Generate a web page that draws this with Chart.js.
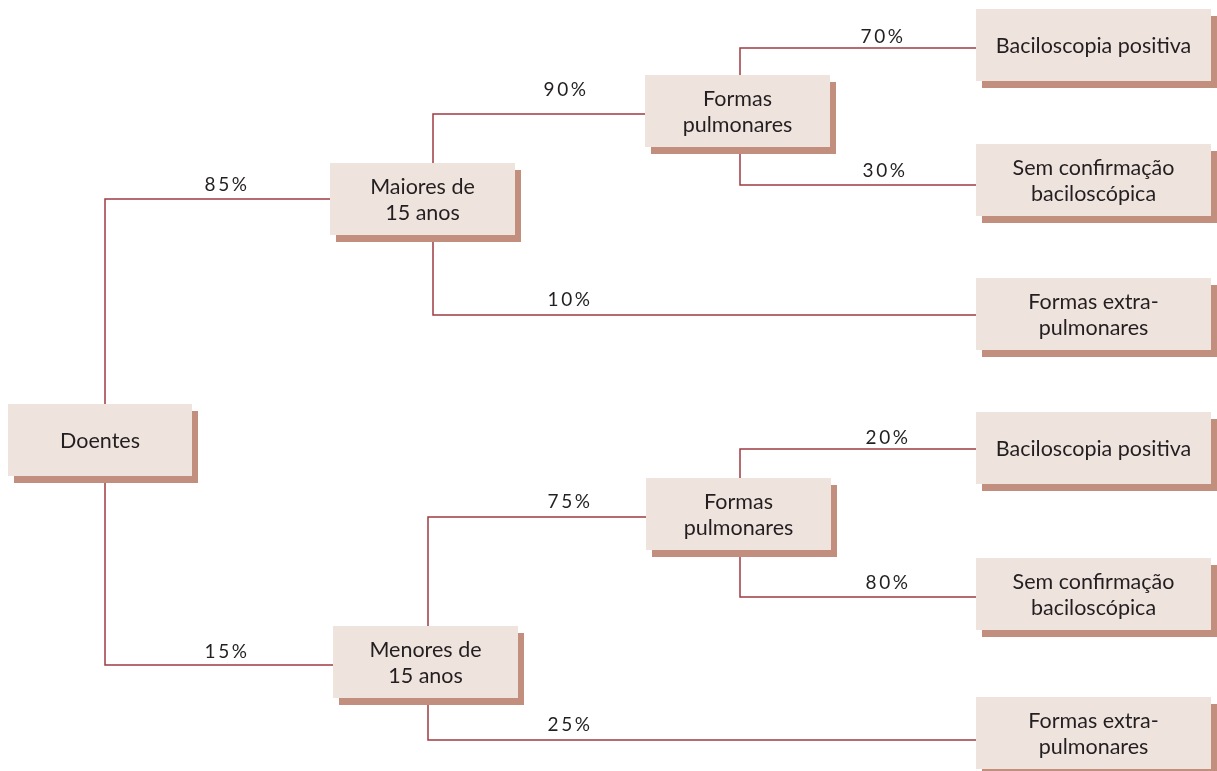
<!DOCTYPE html>
<html>
<head>
<meta charset="utf-8">
<script src="https://cdn.jsdelivr.net/npm/chart.js@4.4.1/dist/chart.umd.min.js"></script>
<style>
  html, body { margin: 0; padding: 0; background: #fff; }
  #wrap { width: 1217px; height: 771px; }
</style>
</head>
<body>
<div id="wrap"><canvas id="tree" width="1217" height="771"></canvas></div>
<script>
// Nós da árvore e percentagens de cada ramo
const nodeLabels = [
  'Doentes',
  'Maiores de\n15 anos',
  'Menores de\n15 anos',
  'Formas\npulmonares',
  'Formas extra-\npulmonares',
  'Baciloscopia positiva',
  'Sem confirmação\nbaciloscópica',
  'Formas\npulmonares',
  'Formas extra-\npulmonares',
  'Baciloscopia positiva',
  'Sem confirmação\nbaciloscópica'
];
const nodeParent = [-1, 0, 0, 1, 1, 3, 3, 2, 2, 7, 7];
const edgePercent = [null, 85, 15, 90, 10, 70, 30, 75, 25, 20, 80];

// Posições do desenho (em unidades da escala 0..1217 x 0..771)
const layout = {
  boxLeft:  [8, 330, 333, 645, 976, 976, 976, 646, 976, 976, 976],
  boxTop:   [404, 163, 626, 75, 278, 9, 144, 478, 697, 412, 558],
  boxWidth: [184, 185, 185, 185, 235, 235, 235, 185, 235, 235, 235],
  boxHeight: 72,
  linkY:    [440, 199, 665, 114, 315, 48, 185, 517, 740, 449, 597],
  trunkX:   [105, 433, 428, 740, null, null, null, 740, null, null, null],
  labelX:   [null, 227, 227, 566, 570, 883, 885, 570, 570, 888, 888],
  labelY:   [null, 185, 652, 90, 300, 37, 171, 502, 725, 438, 583]
};

const colors = {
  box: '#efe3de',
  shadow: '#c28e7e',
  line: '#9e3b41',
  text: '#231f20'
};

// Um dataset por ramo: tronco vertical do pai + linha até a caixa do filho
const datasets = [];
nodeParent.forEach((p, i) => {
  if (p < 0) return;
  const tx = layout.trunkX[p];
  const y = layout.linkY[i];
  datasets.push({
    data: [
      { x: tx, y: layout.linkY[p] },
      { x: tx, y: y },
      { x: layout.boxLeft[i], y: y }
    ],
    showLine: true,
    borderColor: colors.line,
    borderWidth: 1.5,
    pointRadius: 0,
    fill: false
  });
});

const boxesPlugin = {
  id: 'boxes',
  afterDatasetsDraw(chart) {
    const ctx = chart.ctx;
    const xs = chart.scales.x, ys = chart.scales.y;
    ctx.save();

    // caixas com sombra
    nodeLabels.forEach((label, i) => {
      const x0 = xs.getPixelForValue(layout.boxLeft[i]);
      const x1 = xs.getPixelForValue(layout.boxLeft[i] + layout.boxWidth[i]);
      const y0 = ys.getPixelForValue(layout.boxTop[i]);
      const y1 = ys.getPixelForValue(layout.boxTop[i] + layout.boxHeight);
      ctx.fillStyle = colors.shadow;
      ctx.fillRect(x0 + 6, y0 + 7, x1 - x0, y1 - y0);
      ctx.fillStyle = colors.box;
      ctx.fillRect(x0, y0, x1 - x0, y1 - y0);

      ctx.fillStyle = colors.text;
      ctx.font = '21.5px Lato, "Open Sans", sans-serif';
      ctx.textAlign = 'center';
      ctx.textBaseline = 'middle';
      const lines = label.split('\n');
      const cx = (x0 + x1) / 2, cy = (y0 + y1) / 2 + 1;
      const lh = 26;
      lines.forEach((t, k) => {
        ctx.fillText(t, cx, cy + (k - (lines.length - 1) / 2) * lh);
      });
    });

    // percentagens
    ctx.font = '19px Lato, "Open Sans", sans-serif';
    ctx.letterSpacing = '2.5px';
    ctx.fillStyle = colors.text;
    edgePercent.forEach((v, i) => {
      if (v == null) return;
      ctx.fillText(v + '%', xs.getPixelForValue(layout.labelX[i]), ys.getPixelForValue(layout.labelY[i]));
    });
    ctx.restore();
  }
};

new Chart(document.getElementById('tree'), {
  type: 'scatter',
  data: { datasets },
  options: {
    responsive: false,
    animation: false,
    layout: { padding: 0 },
    scales: {
      x: { type: 'linear', min: 0, max: 1217, display: false },
      y: { type: 'linear', min: 0, max: 771, reverse: true, display: false }
    },
    plugins: {
      legend: { display: false },
      tooltip: { enabled: false }
    }
  },
  plugins: [boxesPlugin]
});
</script>
</body>
</html>
